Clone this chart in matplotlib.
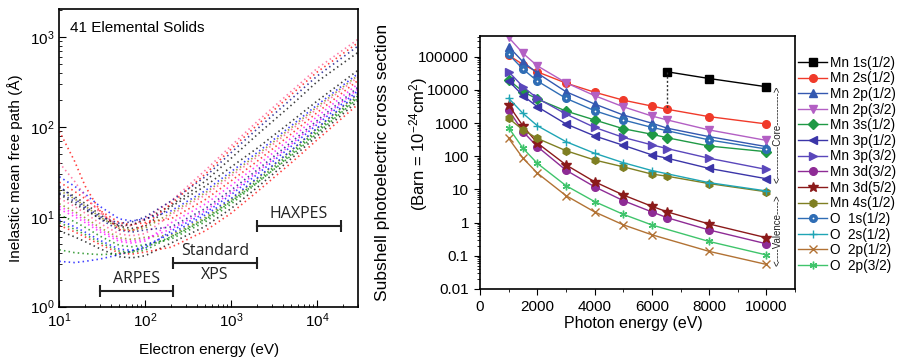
import matplotlib
matplotlib.use('Agg')
import matplotlib.pyplot as plt
from matplotlib.legend_handler import HandlerTuple
from matplotlib.ticker import FixedLocator, LogLocator, NullFormatter, MultipleLocator

plt.rcParams['font.family'] = ['Liberation Sans', 'DejaVu Sans']
plt.rcParams['mathtext.default'] = 'regular'

# ---- left panel: IMFP of elemental solids (Angstrom) ----
imfp_energy = [10, 15, 20, 30, 50, 70, 100, 200, 500, 1000, 2000, 5000, 10000, 30000]
imfp_curves = [
    [7.0, 6.0, 5.3, 4.4, 3.6, 3.5, 3.7, 5.11, 7.85, 12.4, 21.2, 44.5, 79.5, 196],
    [8.04, 6.83, 5.98, 4.90, 3.96, 3.85, 4.06, 4.6, 7.0, 11, 19, 40, 72, 180],
    [9.23, 7.78, 6.76, 5.46, 4.37, 4.23, 4.47, 6.97, 11.1, 17.7, 29.7, 61.1, 107, 255],
    [10.6, 8.85, 7.64, 6.08, 4.82, 4.65, 4.91, 5.66, 8.80, 13.9, 23.8, 49.4, 87.9, 214],
    [12.2, 10.1, 8.63, 6.78, 5.31, 5.11, 5.40, 8.59, 13.9, 22.4, 37.1, 75.4, 131, 303],
    [14.0, 11.5, 9.77, 7.56, 5.85, 5.61, 5.93, 6.28, 9.86, 15.7, 26.5, 54.9, 97.1, 234],
    [16.1, 13.1, 11.0, 8.43, 6.44, 6.17, 6.52, 10.6, 17.5, 28.4, 46.4, 93.1, 160, 361],
    [18.5, 14.9, 12.5, 9.40, 7.10, 6.78, 7.16, 7.73, 12.4, 19.9, 33.2, 67.9, 118, 278],
    [21.2, 16.9, 14.1, 10.5, 7.83, 7.45, 7.87, 13, 22, 36, 58, 115, 195, 430],
    [24.4, 19.3, 15.9, 11.7, 8.63, 8.18, 8.65, 9.53, 15.6, 25.2, 41.5, 83.8, 145, 331],
    [28, 22, 18, 13, 9.5, 9.0, 9.5, 11.7, 19.6, 32.0, 51.9, 103.5, 176, 394],
    [8.61, 7.29, 6.36, 5.17, 4.16, 4.03, 4.26, 5.97, 9.31, 14.8, 25.1, 52.1, 92.3, 224],
    [13.1, 10.8, 9.18, 7.16, 5.57, 5.35, 5.65, 7.34, 11.7, 18.7, 31.4, 64.4, 113, 266],
    [19.8, 15.9, 13.2, 9.91, 7.46, 7.10, 7.51, 11.1, 18.5, 30.1, 49.0, 98.2, 168, 377],
    [40, 25, 17, 11, 8, 8, 9.5, 15, 33, 62, 115, 250, 450, 950],
    [22, 16, 13, 10, 8.5, 8.8, 10, 15, 28, 52, 95, 205, 370, 800],
    [18, 14, 12, 9.5, 8, 8.2, 9.3, 13.5, 25, 45, 82, 175, 320, 680],
    [90, 42, 22, 11.5, 7.2, 7.0, 8.2, 14, 30, 57, 105, 230, 410, 870],
    [3.2, 3.1, 3.2, 3.4, 3.8, 4.2, 4.8, 6.5, 10.5, 16, 27, 55, 97, 240],
    [4.3, 4.0, 3.9, 3.8, 3.9, 4.1, 4.6, 6.0, 9.5, 15, 24, 48, 85, 210],
]
dot_colors = ['black', 'red', 'blue', 'green', 'magenta', '#808000', '#ff4f8b', 'navy']

ranges = ['ARPES', 'Standard\nXPS', 'HAXPES']
range_start = [30, 208, 2000]
range_end = [208, 2000, 19000]
range_level = [1.5, 3.07, 8.0]

# ---- right panel: Mn / O subshell cross sections (barn) ----
e_mn = [1000, 1500, 2000, 3000, 4000, 5000, 6000, 6539, 8000, 10000]
e_o = [1000, 1500, 2000, 3000, 4000, 5000, 6000, 8000, 10000]
e_mn1s = [6539, 8000, 10000]

mn_1s = [35000, 22000, 12400]
mn_2s = [110000, 58000, 35000, 16000, 8500, 4900, 3250, 2600, 1560, 940]
mn_2p1 = [200000, 70000, 32000, 8800, 3750, 1750, 990, 700, 390, 195]
mn_2p3 = [380000, 126000, 53000, 16400, 6700, 3100, 1630, 1240, 620, 300]
mn_3s = [20000, 8800, 5300, 2300, 1240, 675, 460, 360, 203, 137]
mn_3p1 = [18500, 6700, 3100, 940, 410, 214, 110, 87, 43, 21]
mn_3p3 = [35000, 12400, 5560, 1870, 740, 370, 220, 170, 87, 40]
mn_3d3 = [2460, 550, 195, 38, 12, 4.6, 2.1, 1.4, 0.6, 0.23]
mn_3d5 = [3500, 810, 250, 55, 17, 6.8, 3.1, 2.1, 0.91, 0.35]
mn_4s = [1390, 620, 345, 147, 77, 48, 29, 25, 15, 8.5]
o_1s = [118000, 42000, 18500, 5560, 2360, 1240, 740, 310, 165]
o_2s = [5560, 1950, 830, 275, 123, 64, 37, 16, 9]
o_2p1 = [345, 87, 31, 6.5, 2.1, 0.86, 0.43, 0.136, 0.055]
o_2p3 = [720, 173, 61, 13, 4.3, 1.78, 0.85, 0.27, 0.106]

fig = plt.figure(figsize=(8.99, 3.59), dpi=100)

# ================= left panel =================
ax1 = fig.add_axes([0.066, 0.1457, 0.3323, 0.8284])
for i, curve in enumerate(imfp_curves):
    ax1.plot(imfp_energy, curve, ls=(0, (0.9, 1.9)), lw=1.2,
             color=dot_colors[i % len(dot_colors)], alpha=0.75)
ax1.set_xscale('log')
ax1.set_yscale('log')
ax1.set_xlim(10, 30000)
ax1.set_ylim(1, 2050)
ax1.tick_params(which='both', direction='in', top=False, right=False, labelsize=11)
ax1.tick_params(which='major', length=5)
ax1.tick_params(which='minor', length=2.5)
ax1.xaxis.set_major_locator(LogLocator(base=10, numticks=10))
ax1.xaxis.set_minor_locator(LogLocator(base=10, subs=range(2, 10), numticks=20))
ax1.xaxis.set_minor_formatter(NullFormatter())
ax1.yaxis.set_minor_formatter(NullFormatter())
for s in ax1.spines.values():
    s.set_linewidth(1.2)

ax1.text(0.035, 0.925, '41 Elemental Solids', transform=ax1.transAxes, fontsize=11)

for name, a, b, lv in zip(ranges, range_start, range_end, range_level):
    ax1.plot([a, b], [lv, lv], color='#222222', lw=1.5, marker='|', ms=8, mew=1.5)
    xm = (a * b) ** 0.5
    if '\n' in name:
        top, bot = name.split('\n')
        ax1.text(xm, lv * 1.1, top, ha='center', va='bottom', fontsize=11.5,
                 family='Open Sans', color='#222222')
        ax1.text(xm, lv * 0.91, bot, ha='center', va='top', fontsize=11.5,
                 family='Open Sans', color='#222222')
    else:
        ax1.text(xm, lv * 1.1, name, ha='center', va='bottom', fontsize=11.5,
                 family='Open Sans', color='#222222')

fig.text(0.0167, 0.532, 'Inelastic mean free path (Å)', rotation=90,
         ha='center', va='center', fontsize=11)
fig.text(0.232, 0.025, 'Electron energy (eV)', ha='center', va='center', fontsize=11)

# ================= right panel =================
ax2 = fig.add_axes([0.534, 0.195, 0.3504, 0.7047])
series = [
    ('Mn 1s(1/2)', e_mn1s, mn_1s, 'black', 's'),
    ('Mn 2s(1/2)', e_mn, mn_2s, '#f03a2a', 'o'),
    ('Mn 2p(1/2)', e_mn, mn_2p1, '#3458b0', '^'),
    ('Mn 2p(3/2)', e_mn, mn_2p3, '#b35fc4', 'v'),
    ('Mn 3s(1/2)', e_mn, mn_3s, '#1f9945', 'D'),
    ('Mn 3p(1/2)', e_mn, mn_3p1, '#3b35a8', '<'),
    ('Mn 3p(3/2)', e_mn, mn_3p3, '#5a47bb', '>'),
    ('Mn 3d(3/2)', e_mn, mn_3d3, '#8e2b95', 'o'),
    ('Mn 3d(5/2)', e_mn, mn_3d5, '#8b1a1a', '*'),
    ('Mn 4s(1/2)', e_mn, mn_4s, '#7f7f22', 'h'),
    ('O  1s(1/2)', e_o, o_1s, '#2f6db5', 'o'),
    ('O  2s(1/2)', e_o, o_2s, '#1fa5b5', '+'),
    ('O  2p(1/2)', e_o, o_2p1, '#b27234', 'x'),
    ('O  2p(3/2)', e_o, o_2p3, '#3fc46b', (6, 2, 0)),
]
handles = []
labels = []
for name, xs, ys, col, mk in series:
    size = 7 if mk == '*' else 5.5
    line, = ax2.plot(xs, ys, color=col, lw=1.0, marker=mk, ms=size,
                     mfc=col, mec=col, mew=1.0)
    if name.startswith('O  1s'):
        dot, = ax2.plot(xs, ys, ls='none', marker='o', ms=1.3, mew=0,
                        mfc='white')
        handles.append((line, dot))
    else:
        handles.append(line)
    labels.append(name)

# dotted drop from the Mn 1s edge to the Mn 2s curve
edge_i = e_mn.index(e_mn1s[0])
ax2.plot([e_mn1s[0], e_mn1s[0]], [mn_1s[0], mn_2s[edge_i]], color='#333333',
         ls=(0, (1.5, 1.5)), lw=1.0)

ax2.set_yscale('log')
ax2.set_xlim(0, 11000)
ax2.set_ylim(0.01, 4.2e5)
ax2.xaxis.set_major_locator(MultipleLocator(2000))
ax2.xaxis.set_minor_locator(MultipleLocator(1000))
ytick_vals = [0.01, 0.1, 1, 10, 100, 1000, 10000, 100000]
ax2.yaxis.set_major_locator(FixedLocator(ytick_vals))
ax2.set_yticklabels(['0.01', '0.1', '1', '10', '100', '1000', '10000', '100000'])
ax2.yaxis.set_minor_locator(LogLocator(base=10, subs=range(2, 10), numticks=20))
ax2.yaxis.set_minor_formatter(NullFormatter())
ax2.tick_params(which='both', direction='out', labelsize=11)
ax2.tick_params(which='major', length=4.5)
ax2.tick_params(which='minor', length=2.5)
for s in ax2.spines.values():
    s.set_linewidth(1.2)

ax2.text(10380, 450, '<' + '-' * 10 + 'Core' + '-' * 10 + '>', rotation=90,
         ha='center', va='center', fontsize=7, color='#222222')
ax2.text(10380, 0.6, '<' + '-' * 4 + 'Valence' + '-' * 4 + '>', rotation=90,
         ha='center', va='center', fontsize=7, color='#222222')

fig.text(0.704, 0.100, 'Photon energy (eV)', ha='center', va='center', fontsize=11.5)
fig.text(0.4260, 0.547, 'Subshell photoelectric cross section', rotation=90,
         ha='center', va='center', fontsize=12.5)
fig.text(0.4655, 0.60, '(Barn = 10$^{-24}$cm$^{2}$)', rotation=90,
         ha='center', va='center', fontsize=12)

fig.legend(handles, labels, loc='upper left', bbox_to_anchor=(0.888, 0.845),
           frameon=False, fontsize=9.8, handlelength=2.1, handletextpad=0.25,
           labelspacing=0.12, borderaxespad=0, borderpad=0,
           handler_map={tuple: HandlerTuple(ndivide=1)})

plt.savefig('out.png', dpi=100)
